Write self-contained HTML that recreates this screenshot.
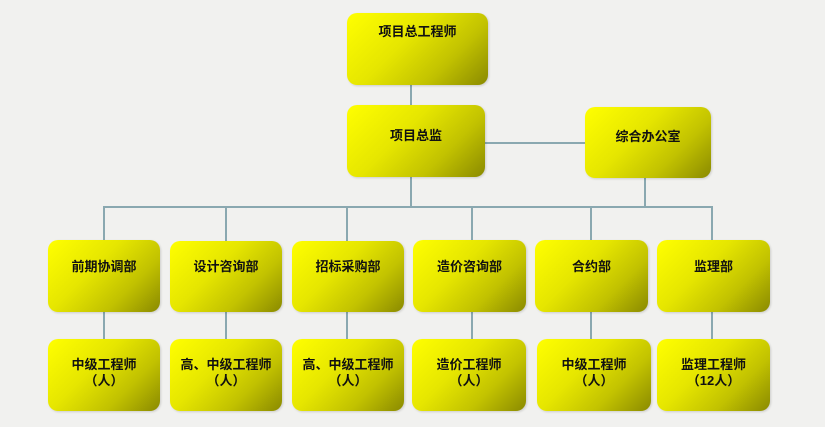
<!DOCTYPE html>
<html><head><meta charset="utf-8"><style>
body{margin:0;width:825px;height:427px;background:#f1f1ef;position:relative;overflow:hidden;font-family:"Liberation Sans","Noto Sans CJK SC",sans-serif;}
.b{position:absolute;border-radius:10px;background:linear-gradient(135deg,#ffff00 0%,#e6e600 40%,#c2c200 70%,#8a8a00 100%);box-shadow:1px 1px 2px rgba(0,0,0,.15);font-weight:bold;font-size:13px;color:#111;text-align:center;line-height:16px;box-sizing:border-box;}
.l{position:absolute;background:#8aa8b0;}
</style></head><body>
<div class="l" style="left:410px;top:85px;width:2px;height:20px"></div>
<div class="l" style="left:485px;top:142px;width:100px;height:2px"></div>
<div class="l" style="left:410px;top:177px;width:2px;height:30px"></div>
<div class="l" style="left:644px;top:178px;width:2px;height:29px"></div>
<div class="l" style="left:103px;top:206px;width:610px;height:2px"></div>
<div class="l" style="left:103px;top:206px;width:2px;height:134px"></div>
<div class="l" style="left:225px;top:206px;width:2px;height:134px"></div>
<div class="l" style="left:346px;top:206px;width:2px;height:134px"></div>
<div class="l" style="left:471px;top:206px;width:2px;height:134px"></div>
<div class="l" style="left:590px;top:206px;width:2px;height:134px"></div>
<div class="l" style="left:711px;top:206px;width:2px;height:134px"></div>

<div class="b" style="left:347px;top:13px;width:141px;height:72px;padding-top:11px">项目总工程师</div>
<div class="b" style="left:347px;top:105px;width:138px;height:72px;padding-top:23px">项目总监</div>
<div class="b" style="left:585px;top:107px;width:126px;height:71px;padding-top:22px">综合办公室</div>

<div class="b" style="left:48px;top:240px;width:112px;height:72px;padding-top:19px">前期协调部</div>
<div class="b" style="left:170px;top:241px;width:112px;height:71px;padding-top:18px">设计咨询部</div>
<div class="b" style="left:292px;top:241px;width:112px;height:71px;padding-top:18px">招标采购部</div>
<div class="b" style="left:413px;top:240px;width:113px;height:72px;padding-top:19px">造价咨询部</div>
<div class="b" style="left:535px;top:240px;width:113px;height:72px;padding-top:19px">合约部</div>
<div class="b" style="left:657px;top:240px;width:113px;height:72px;padding-top:19px">监理部</div>

<div class="b" style="left:48px;top:339px;width:112px;height:72px;padding-top:18px">中级工程师<br>（人）</div>
<div class="b" style="left:170px;top:339px;width:112px;height:72px;padding-top:18px">高、中级工程师<br>（人）</div>
<div class="b" style="left:292px;top:339px;width:112px;height:72px;padding-top:18px">高、中级工程师<br>（人）</div>
<div class="b" style="left:412px;top:339px;width:114px;height:72px;padding-top:18px">造价工程师<br>（人）</div>
<div class="b" style="left:537px;top:339px;width:114px;height:72px;padding-top:18px">中级工程师<br>（人）</div>
<div class="b" style="left:657px;top:339px;width:113px;height:72px;padding-top:18px">监理工程师<br>（12人）</div>
</body></html>
